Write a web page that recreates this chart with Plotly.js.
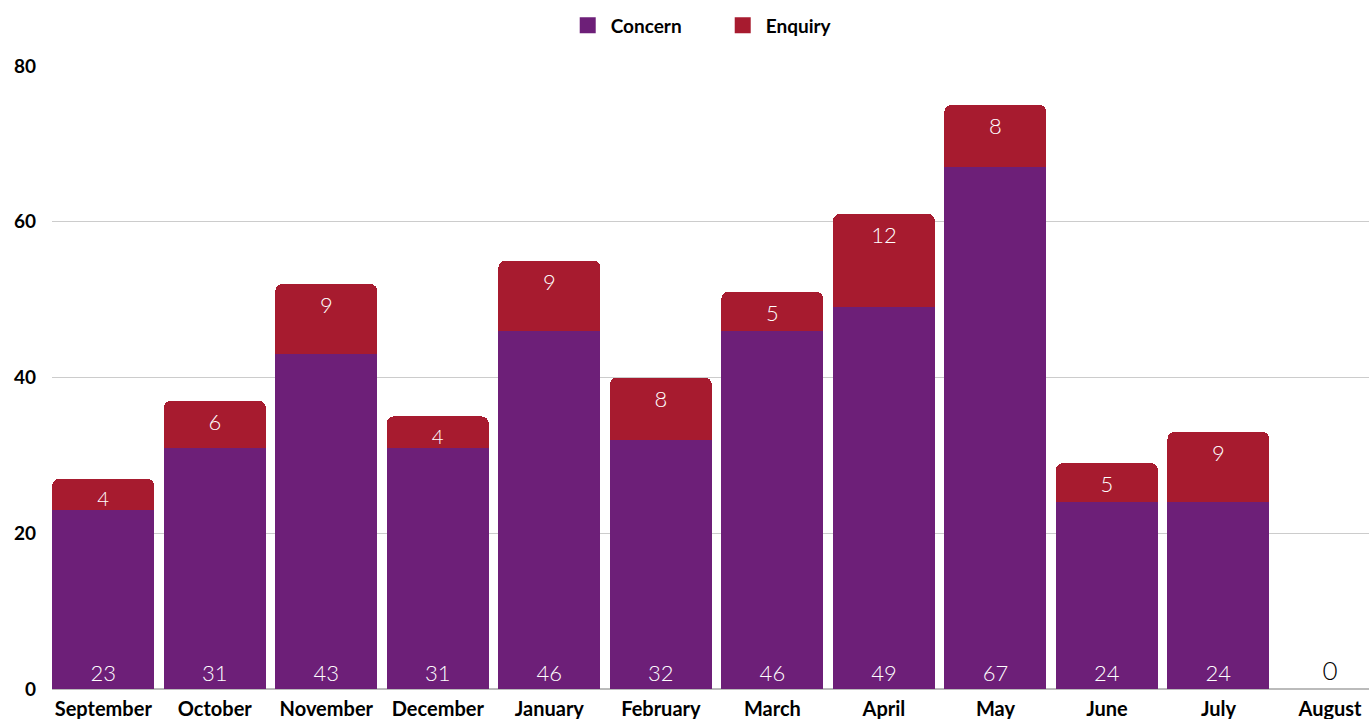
<!DOCTYPE html>
<html>
<head>
<meta charset="utf-8">
<script src="https://cdn.plot.ly/plotly-3.0.1.min.js"></script>
<style>html,body{margin:0;padding:0;overflow:hidden;background:#fff}#chart{width:1369px;height:719px}</style>
</head>
<body>
<div id="chart"></div>
<script>
const months = ["September","October","November","December","January","February","March","April","May","June","July","August"];
const concern = [23,31,43,31,46,32,46,49,67,24,24,0];
const enquiry = [4,6,9,4,9,8,5,12,8,5,9,0];
const yTicks = [0,20,40,60,80];
const seriesNames = ["Concern","Enquiry"];
const seriesColors = ["#6D1F78","#A71B2F"];

const FONT = "Lato, 'Open Sans', sans-serif";
const totals = concern.map((c,i)=>c+enquiry[i]);

const traceConcern = {
  type:'bar', name:seriesNames[0], x:months, y:concern, showlegend:false,
  marker:{color:seriesColors[0]},
  text: concern.map(v=> v ? String(v) : ''),
  textposition:'inside', insidetextanchor:'start',
  insidetextfont:{color:'#ffffff', size:22, family:FONT, weight:300},
  textangle:0, hoverinfo:'none'
};
const traceEnquiry = {
  type:'bar', name:seriesNames[1], x:months, y:enquiry, showlegend:false,
  marker:{color:seriesColors[1]},
  text: enquiry.map((v,i)=> totals[i]===0 ? '0' : String(v)),
  textposition: totals.map(t=> t===0 ? 'outside' : 'inside'),
  insidetextanchor:'end',
  insidetextfont:{color:'#ffffff', size:22, family:FONT, weight:300},
  outsidetextfont:{color:'#000000', size:26, family:FONT, weight:300},
  textangle:0, cliponaxis:false, hoverinfo:'none'
};
const legendTraces = seriesNames.map((n,i)=>({
  type:'scatter', mode:'markers', name:n, x:[null], y:[null],
  marker:{symbol:'square', size:24, color:seriesColors[i]}, hoverinfo:'none', showlegend:true
}));

const layout = {
  width:1369, height:719,
  margin:{l:52, r:0, t:66, b:30, autoexpand:false},
  barmode:'stack', bargap:0.085, barcornerradius:7,
  paper_bgcolor:'#fff', plot_bgcolor:'#fff',
  font:{family:FONT, color:'#000'},
  showlegend:true,
  legend:{orientation:'h', x:0.507, xanchor:'center', y:1.065, yanchor:'middle',
          entrywidth:104, entrywidthmode:'pixels',
          font:{size:19, family:FONT, weight:'bold', color:'#000'}, itemwidth:36, traceorder:'normal'},
  xaxis:{range:[-0.46, 11.35], showgrid:false, zeroline:false, showline:false,
         tickfont:{size:20, family:FONT, weight:'bold', color:'#000'}, ticks:'', ticklabelstandoff:6, fixedrange:true},
  yaxis:{range:[0,80], tickvals:yTicks, ticktext:yTicks.map(String), showgrid:true, gridcolor:'#cccccc', gridwidth:1,
         zeroline:true, zerolinecolor:'#bbbbbb', zerolinewidth:1.5, showline:false,
         tickfont:{size:19, family:FONT, weight:'bold', color:'#000'}, ticks:'', ticklabelstandoff:15, fixedrange:true}
};

Plotly.newPlot('chart', [traceConcern, traceEnquiry].concat(legendTraces), layout, {displayModeBar:false, staticPlot:true});
</script>
</body>
</html>
